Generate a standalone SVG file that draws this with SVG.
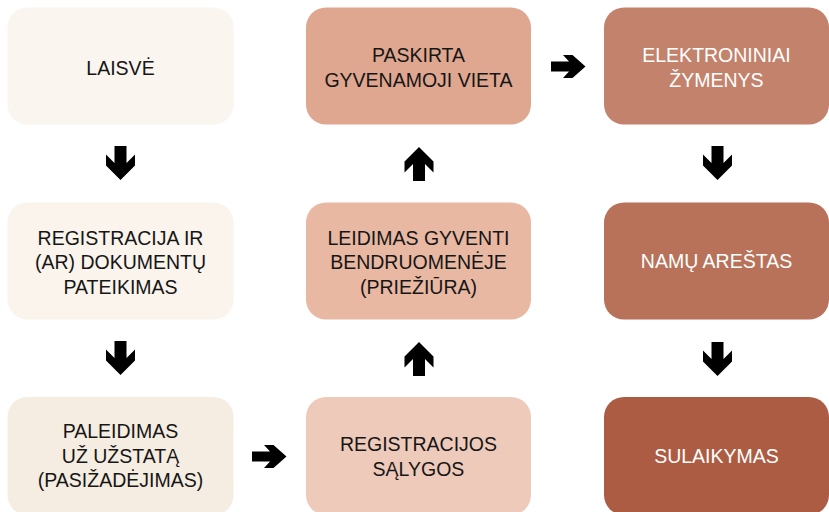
<svg xmlns="http://www.w3.org/2000/svg" xmlns:xlink="http://www.w3.org/1999/xlink" width="829" height="512" viewBox="0 0 829 512">
  <style>
    .box { stroke: none; }
    .t { font-family: "Liberation Sans", Arial, sans-serif; font-size: 19.5px; text-anchor: middle; fill: #161616; }
    .w { fill: #ffffff; }
    .arr { fill: #000000; }
  </style>
  <defs>
    <path id="down" d="M-6,0 L6,0 L6,17 L14.5,8.5 L14.5,19.5 L0,34 L-14.5,19.5 L-14.5,8.5 L-6,17 Z"/>
    <path id="right" d="M0,-5 L18,-5 L12,-11.5 L21.5,-11.5 L34.5,0 L21.5,11.5 L12,11.5 L18,5 L0,5 Z"/>
  </defs>
  <rect width="829" height="512" fill="#ffffff"/>

  <g id="n-laisve">
    <rect class="box" x="7.5" y="7.5" width="226" height="117" rx="20" fill="#FAF5EF"/>
    <text class="t" x="120.5" y="74.5">LAISVĖ</text>
  </g>
  <g id="n-registracija">
    <rect class="box" x="7.5" y="202.5" width="226" height="117" rx="20" fill="#FAF4EC"/>
    <text class="t" x="120.5" y="244.5">REGISTRACIJA IR</text>
    <text class="t" x="120.5" y="269">(AR) DOKUMENTŲ</text>
    <text class="t" x="120.5" y="293.5">PATEIKIMAS</text>
  </g>
  <g id="n-paleidimas">
    <rect class="box" x="7.5" y="397" width="226" height="118" rx="20" fill="#F5EDE1"/>
    <text class="t" x="120.5" y="438">PALEIDIMAS</text>
    <text class="t" x="120.5" y="462.5">UŽ UŽSTATĄ</text>
    <text class="t" x="120.5" y="487">(PASIŽADĖJIMAS)</text>
  </g>
  <g id="n-salygos">
    <rect class="box" x="306" y="397" width="225" height="118" rx="20" fill="#EECABB"/>
    <text class="t" x="418.5" y="451">REGISTRACIJOS</text>
    <text class="t" x="418.5" y="476">SĄLYGOS</text>
  </g>
  <g id="n-leidimas">
    <rect class="box" x="306" y="202.5" width="225" height="117" rx="20" fill="#E9B8A3"/>
    <text class="t" x="418.5" y="244.5">LEIDIMAS GYVENTI</text>
    <text class="t" x="418.5" y="269">BENDRUOMENĖJE</text>
    <text class="t" x="418.5" y="293.5">(PRIEŽIŪRA)</text>
  </g>
  <g id="n-paskirta">
    <rect class="box" x="306" y="7.5" width="225" height="117" rx="20" fill="#E0A790"/>
    <text class="t" x="418.5" y="62">PASKIRTA</text>
    <text class="t" x="418.5" y="87">GYVENAMOJI VIETA</text>
  </g>
  <g id="n-elektroniniai">
    <rect class="box" x="604" y="7.5" width="225" height="117" rx="20" fill="#C3826B"/>
    <text class="t w" x="716.5" y="62">ELEKTRONINIAI</text>
    <text class="t w" x="716.5" y="87">ŽYMENYS</text>
  </g>
  <g id="n-namu">
    <rect class="box" x="604" y="202.5" width="225" height="117" rx="20" fill="#B87259"/>
    <text class="t w" x="716.5" y="268">NAMŲ AREŠTAS</text>
  </g>
  <g id="n-sulaikymas">
    <rect class="box" x="604" y="397" width="225" height="118" rx="20" fill="#AD5C44"/>
    <text class="t w" x="716.5" y="463">SULAIKYMAS</text>
  </g>

  <g id="connectors" class="arr">
    <use xlink:href="#down" href="#down" transform="translate(120.5,146)"/>
    <use xlink:href="#down" href="#down" transform="translate(120.5,341)"/>
    <use xlink:href="#right" href="#right" transform="translate(252,456.5)"/>
    <use xlink:href="#down" href="#down" transform="translate(419,376) rotate(180)"/>
    <use xlink:href="#down" href="#down" transform="translate(419,181) rotate(180)"/>
    <use xlink:href="#right" href="#right" transform="translate(551,66.5)"/>
    <use xlink:href="#down" href="#down" transform="translate(717.5,146)"/>
    <use xlink:href="#down" href="#down" transform="translate(717.5,342)"/>
  </g>
</svg>
